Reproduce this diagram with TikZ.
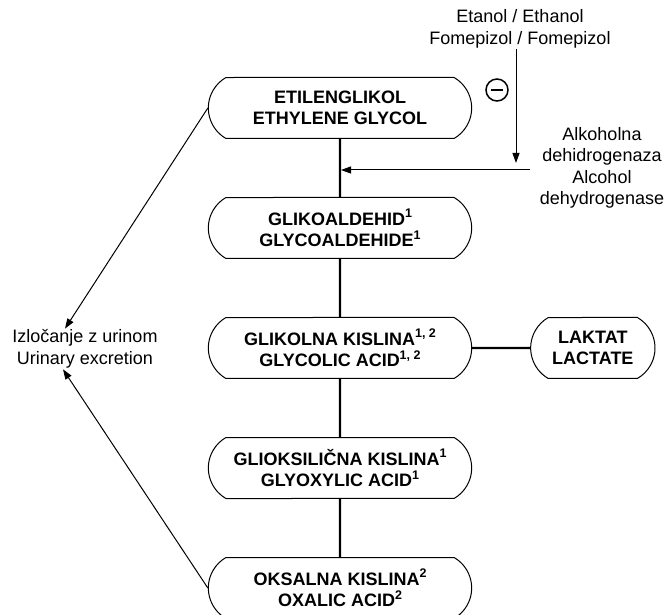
\documentclass[tikz,border=0pt]{standalone}
\usepackage{fontspec}
\setmainfont{Liberation Sans}
\usetikzlibrary{shapes.misc}
\usetikzlibrary{arrows.meta}
\usetikzlibrary{positioning}
\newcommand{\supnum}[1]{\raisebox{0.42em}{\fontsize{12.5}{12.5}\selectfont #1}}

\begin{document}
\begin{tikzpicture}[x=1pt, y=1pt, box/.style={rounded rectangle, rounded rectangle arc length=120, draw, line width=1pt, minimum width=270pt, minimum height=61pt, align=center, font=\fontsize{18}{21.5}\selectfont\bfseries}, note/.style={align=center, inner sep=1pt, font=\fontsize{18}{21.5}\selectfont}, arr/.style={-{Triangle[length=10pt, width=7pt]}, line width=1pt}, level distance=120pt, edge from parent/.style={draw, line width=2.4pt}, every child node/.style={box}]
  \useasboundingbox (0,0) rectangle (667,614);
  \node[box](eg) at (340,506) {ETILENGLIKOL\\ETHYLENE GLYCOL}
		child {node(ga){GLIKOALDEHID\supnum{1}\\GLYCOALDEHIDE\supnum{1}}
			child {node(gk){GLIKOLNA KISLINA\supnum{1, 2}\\GLYCOLIC ACID\supnum{1, 2}}
					child {node(gx){GLIOKSILIČNA KISLINA\supnum{1}\\GLYOXYLIC ACID\supnum{1}}
						child {node(ox){OKSALNA KISLINA\supnum{2}\\OXALIC ACID\supnum{2}}}}}};
  \node[box, right=58pt of gk, minimum width=131pt](lac){LAKTAT\\LACTATE};
  \draw[line width=2.4pt] (gk) -- (lac);
  \node[note](drug) at (520,585) {Etanol / Ethanol\\Fomepizol / Fomepizol};
  \node[note](enz) at (602,446) {Alkoholna\\dehidrogenaza\\Alcohol\\dehydrogenase};
  \node[circle, draw, line width=1.5pt, minimum size=22pt, inner sep=0pt](inh) at (497,524) {\rule[-0.75pt]{12pt}{1.5pt}};
  \coordinate(blk) at (516,451);
  \coordinate(hit) at (341,444);
  \draw[arr] (drug.south -| blk) -- (blk);
  \draw[arr] (enz.west |- hit) ++(-9pt,0) -- (hit);
  \node[note](urin) at (85,265) {Izločanje z urinom\\Urinary excretion};
  \draw[arr] (eg.west) -- ([xshift=-20pt]urin.north);
  \draw[arr] (ox.west) -- ([xshift=-22pt]urin.south);
\end{tikzpicture}
\end{document}
